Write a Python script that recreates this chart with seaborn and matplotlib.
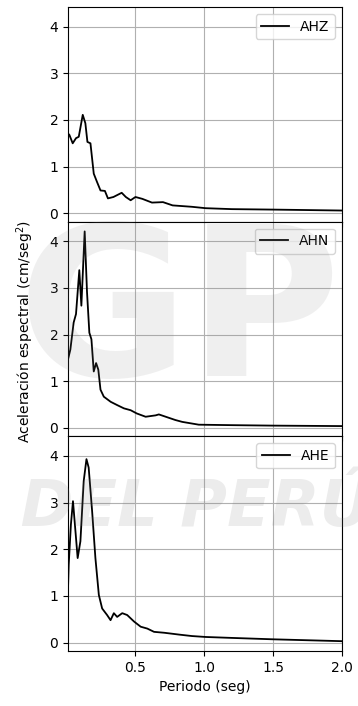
import matplotlib
matplotlib.use("Agg")
import matplotlib.pyplot as plt
import seaborn as sns
import pandas as pd

# Spectral acceleration curves
ahz_t = [0.01, 0.02, 0.044, 0.068, 0.088, 0.117, 0.136, 0.151, 0.173, 0.197, 0.221, 0.246,
         0.278, 0.30, 0.34, 0.40, 0.43, 0.465, 0.50, 0.55, 0.62, 0.70, 0.77, 0.91, 1.01,
         1.2, 1.5, 2.0]
ahz_a = [1.71, 1.68, 1.50, 1.61, 1.64, 2.11, 1.93, 1.53, 1.50, 0.85, 0.67, 0.49,
         0.48, 0.32, 0.35, 0.44, 0.35, 0.28, 0.35, 0.31, 0.23, 0.24, 0.17, 0.14, 0.11,
         0.09, 0.08, 0.06]

ahn_t = [0.01, 0.027, 0.051, 0.068, 0.092, 0.107, 0.131, 0.148, 0.165, 0.18, 0.197, 0.214,
         0.23, 0.246, 0.27, 0.32, 0.367, 0.416, 0.465, 0.51, 0.574, 0.647, 0.67, 0.79,
         0.84, 0.96, 1.2, 1.5, 2.0]
ahn_a = [1.47, 1.68, 2.26, 2.44, 3.38, 2.62, 4.21, 2.91, 2.04, 1.90, 1.21, 1.39,
         1.25, 0.82, 0.67, 0.56, 0.49, 0.42, 0.38, 0.31, 0.24, 0.27, 0.29, 0.17,
         0.13, 0.07, 0.06, 0.05, 0.04]

ahe_t = [0.01, 0.015, 0.031, 0.046, 0.058, 0.08, 0.10, 0.124, 0.144, 0.16, 0.185, 0.209,
         0.234, 0.258, 0.294, 0.319, 0.343, 0.367, 0.404, 0.44, 0.49, 0.538, 0.586, 0.635,
         0.71, 0.82, 0.91, 1.01, 1.2, 1.5, 2.0]
ahe_a = [1.16, 1.67, 2.53, 3.03, 2.60, 1.81, 2.17, 3.46, 3.93, 3.75, 2.82, 1.81,
         1.02, 0.73, 0.59, 0.48, 0.63, 0.55, 0.63, 0.59, 0.45, 0.34, 0.30, 0.23,
         0.21, 0.17, 0.14, 0.12, 0.10, 0.07, 0.03]

components = ["AHZ", "AHN", "AHE"]
series = {"AHZ": (ahz_t, ahz_a), "AHN": (ahn_t, ahn_a), "AHE": (ahe_t, ahe_a)}

fig, axes = plt.subplots(3, 1, figsize=(3.58, 7.06), dpi=100, sharex=True, sharey=True)
fig.subplots_adjust(left=0.19, right=0.955, top=0.99, bottom=0.078, hspace=0)

for ax, comp in zip(axes, components):
    t, a = series[comp]
    df = pd.DataFrame({"Periodo": t, "Acel": a})
    sns.lineplot(data=df, x="Periodo", y="Acel", ax=ax, color="black",
                 linewidth=1.3, label=comp)
    ax.grid(True, color="#b0b0b0", linewidth=0.8)
    ax.set_ylabel("")
    ax.set_xlabel("")
    ax.legend(loc="upper right", fontsize=10)
    ax.set_yticks([0, 1, 2, 3, 4])

axes[0].set_xlim(0.01, 2.0)
axes[-1].set_xticks([0.5, 1.0, 1.5, 2.0])
axes[-1].set_xlabel("Periodo (seg)")
fig.supylabel("Aceleración espectral (cm/seg$^2$)", x=0.04, y=0.53, fontsize=10)

# faint watermark
fig.text(0.5, 0.55, "GP", fontsize=150, fontweight="bold", color="gray",
         alpha=0.12, ha="center", va="center")
fig.text(0.44, 0.28, "O DEL PERÚ", fontsize=46, fontweight="bold", style="italic",
         color="gray", alpha=0.15, ha="center", va="center")

plt.savefig("out.png", dpi=100)
